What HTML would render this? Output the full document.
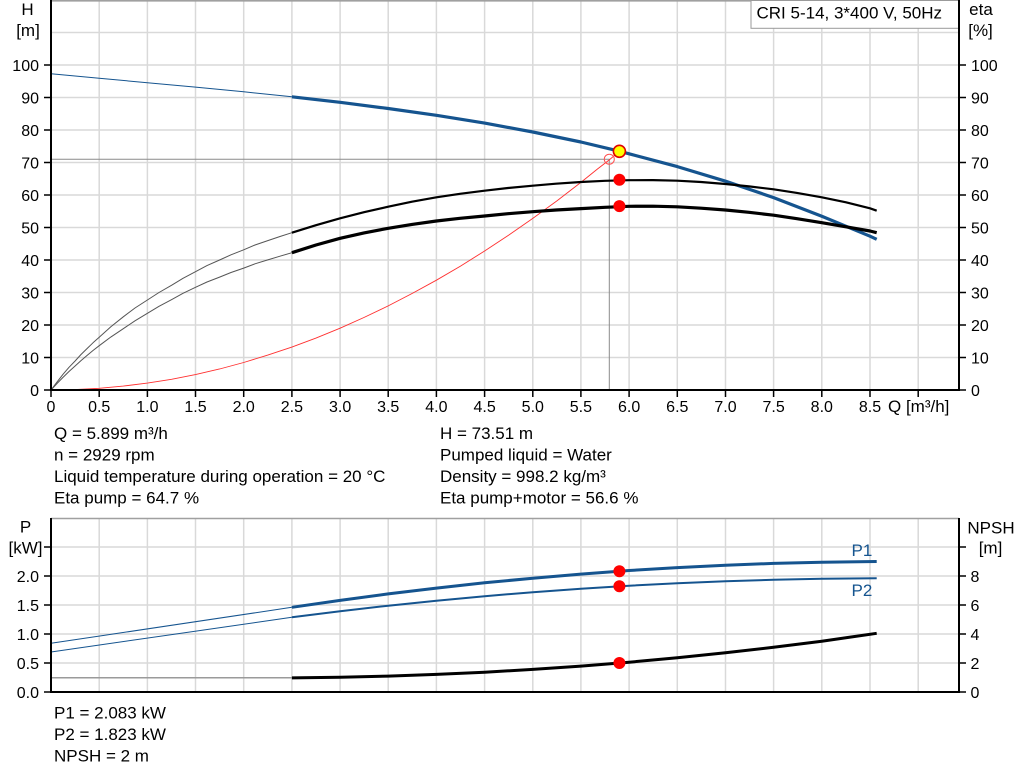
<!DOCTYPE html>
<html><head><meta charset="utf-8"><style>
html,body{margin:0;padding:0;background:#fff;}
svg{display:block;}
text{font-family:"Liberation Sans",Arial,sans-serif;font-size:17px;fill:#000;}
text.t{font-size:16px;}
</style></head><body>
<svg width="1024" height="781" viewBox="0 0 1024 781" xmlns="http://www.w3.org/2000/svg">
<!-- top chart grid -->
<g stroke="#d9d9d9" stroke-width="1.5" fill="none">
<path d="M99.2 0V390M147.4 0V390M195.5 0V390M243.7 0V390M291.9 0V390M340.1 0V390M388.2 0V390M436.4 0V390M484.6 0V390M532.8 0V390M580.9 0V390M629.1 0V390M677.3 0V390M725.5 0V390M773.6 0V390M821.8 0V390M870 0V390M918.2 0V390"/>
<path d="M51 357.5H959M51 325H959M51 292.5H959M51 260H959M51 227.5H959M51 195H959M51 162.5H959M51 130H959M51 97.5H959M51 65H959M51 32.5H959"/>
</g>
<line x1="51" y1="0.8" x2="959" y2="0.8" stroke="#a0a0a0" stroke-width="1.6"/>
<!-- legend box -->
<rect x="751" y="0.5" width="207.5" height="27.8" fill="#fff" stroke="#9a9a9a" stroke-width="1"/>
<text x="756.5" y="18.5">CRI 5-14, 3*400 V, 50Hz</text>
<!-- crosshair -->
<path d="M51 159.2H609.3V390" stroke="#8a8a8a" stroke-width="1" fill="none"/>
<!-- system curve -->
<polyline fill="none" stroke="#ff3030" stroke-width="0.9" points="51,390 75.1,389.6 99.2,388.3 123.3,386.1 147.4,383.1 171.5,379.3 195.5,374.6 219.6,369 243.7,362.5 267.8,355.1 291.9,347.1 316,338.1 340.1,328.2 364.2,317.4 388.2,305.9 412.3,293.4 436.4,280.2 460.5,266.1 484.6,251 508.7,235.1 532.8,218.4 556.9,200.9 580.9,182.4 597,169.4 609.3,159.9 619.4,151.3"/>
<circle cx="609.3" cy="159.2" r="5" fill="none" stroke="#ff5050" stroke-width="1"/>
<!-- H curve -->
<polyline fill="none" stroke="#15548f" stroke-width="1" points="51,73.8 99.2,78.3 147.4,82.7 195.5,87.1 243.7,91.8 291.9,96.8"/>
<polyline fill="none" stroke="#15548f" stroke-width="3.2" stroke-linejoin="round" points="291.9,96.8 340.1,102.3 388.2,108.5 436.4,115.3 484.6,123.1 532.8,132 580.9,142 619.4,151.2 629.1,153.8 677.3,166.6 725.5,181.2 773.6,197.6 821.8,216.3 870,236.2 876.7,239.3"/>
<!-- eta pump -->
<polyline fill="none" stroke="#555" stroke-width="1" stroke-linejoin="round" points="51,390 57,382 63,374.3 69,367.3 75.1,361 81,354.5 87,348.6 93,342.8 99.2,337.3 111,326.6 123.3,316.8 135,308 147.4,300 159,292.5 171.5,285.3 183,278.3 195.5,271.7 207,265.6 219.6,260 231,254.8 243.7,249.8 255,245 267.8,240.6 280,236.5 291.9,232.7"/>
<polyline fill="none" stroke="#000" stroke-width="2.2" stroke-linejoin="round" points="291.9,232.7 316,225.2 340.1,218.3 364,212.2 388.2,206.7 412,201.7 436.4,197.3 460,193.8 484.6,190.7 508,188 532.8,185.7 556,183.7 580.9,182 605,180.8 629.1,180.2 653,180.1 677.3,180.7 701,182 725.5,184 749,186.4 773.6,189.3 797,192.9 821.8,197.3 846,202.3 870,208.3 876.7,210.7"/>
<!-- eta pump+motor -->
<polyline fill="none" stroke="#555" stroke-width="1" stroke-linejoin="round" points="51,390 57,383.5 63,377.4 69,371.5 75.1,366 81,360.6 87,355.5 93,350.5 99.2,345.7 111,336.9 123.3,328.7 135,320.8 147.4,313.3 159,306.3 171.5,299.7 183,293.3 195.5,287.3 207,282 219.6,277.1 231,272.5 243.7,268.1 255,263.8 267.8,259.9 280,256.2 291.9,252.7"/>
<polyline fill="none" stroke="#000" stroke-width="3.2" stroke-linejoin="round" points="291.9,252.7 316,245 340.1,238.3 364,232.9 388.2,228.3 412,224.4 436.4,221 460,218.3 484.6,216 508,213.7 532.8,211.7 556,210 580.9,208.6 605,207.3 629.1,206.3 653,206.2 677.3,206.8 701,208.2 725.5,210 749,212.3 773.6,215.2 797,218.7 821.8,222.7 846,226.8 870,231 876.7,232.7"/>
<!-- operating points -->
<circle cx="619.4" cy="179.8" r="6" fill="#ff0000"/>
<circle cx="619.4" cy="206.1" r="6" fill="#ff0000"/>
<circle cx="619.4" cy="151.3" r="6" fill="#ffff00" stroke="#e00000" stroke-width="1.6"/>
<!-- top axes -->
<g stroke="#000" stroke-width="2" fill="none">
<path d="M51 0V391M959 0V391M50 390H960"/>
</g>
<g stroke="#000" stroke-width="1.5" fill="none">
<path d="M44 390H51M44 357.5H51M44 325H51M44 292.5H51M44 260H51M44 227.5H51M44 195H51M44 162.5H51M44 130H51M44 97.5H51M44 65H51"/>
<path d="M959 390H966M959 357.5H966M959 325H966M959 292.5H966M959 260H966M959 227.5H966M959 195H966M959 162.5H966M959 130H966M959 97.5H966M959 65H966"/>
<path d="M51 390V397M99.2 390V397M147.4 390V397M195.5 390V397M243.7 390V397M291.9 390V397M340.1 390V397M388.2 390V397M436.4 390V397M484.6 390V397M532.8 390V397M580.9 390V397M629.1 390V397M677.3 390V397M725.5 390V397M773.6 390V397M821.8 390V397M870 390V397M918.2 390V397"/>
</g>
<g text-anchor="end">
<text class="t" x="39" y="396">0</text><text class="t" x="39" y="363.5">10</text><text class="t" x="39" y="331">20</text><text class="t" x="39" y="298.5">30</text><text class="t" x="39" y="266">40</text><text class="t" x="39" y="233.5">50</text><text class="t" x="39" y="201">60</text><text class="t" x="39" y="168.5">70</text><text class="t" x="39" y="136">80</text><text class="t" x="39" y="103.5">90</text><text class="t" x="39" y="71">100</text>
</g>
<g>
<text class="t" x="971" y="396">0</text><text class="t" x="971" y="363.5">10</text><text class="t" x="971" y="331">20</text><text class="t" x="971" y="298.5">30</text><text class="t" x="971" y="266">40</text><text class="t" x="971" y="233.5">50</text><text class="t" x="971" y="201">60</text><text class="t" x="971" y="168.5">70</text><text class="t" x="971" y="136">80</text><text class="t" x="971" y="103.5">90</text><text class="t" x="971" y="71">100</text>
</g>
<g text-anchor="middle">
<text class="t" x="51" y="412">0</text><text class="t" x="99.2" y="412">0.5</text><text class="t" x="147.4" y="412">1.0</text><text class="t" x="195.5" y="412">1.5</text><text class="t" x="243.7" y="412">2.0</text><text class="t" x="291.9" y="412">2.5</text><text class="t" x="340.1" y="412">3.0</text><text class="t" x="388.2" y="412">3.5</text><text class="t" x="436.4" y="412">4.0</text><text class="t" x="484.6" y="412">4.5</text><text class="t" x="532.8" y="412">5.0</text><text class="t" x="580.9" y="412">5.5</text><text class="t" x="629.1" y="412">6.0</text><text class="t" x="677.3" y="412">6.5</text><text class="t" x="725.5" y="412">7.0</text><text class="t" x="773.6" y="412">7.5</text><text class="t" x="821.8" y="412">8.0</text><text class="t" x="870" y="412">8.5</text>
</g>
<text x="888" y="412">Q [m³/h]</text>
<text x="27.5" y="15" text-anchor="middle">H</text>
<text x="28" y="36" text-anchor="middle">[m]</text>
<text x="981" y="15" text-anchor="middle">eta</text>
<text x="980.5" y="36" text-anchor="middle">[%]</text>
<!-- info text -->
<text x="54" y="439">Q = 5.899 m³/h</text>
<text x="54" y="460.5">n = 2929 rpm</text>
<text x="54" y="482">Liquid temperature during operation = 20 °C</text>
<text x="54" y="503.5">Eta pump = 64.7 %</text>
<text x="440" y="439">H = 73.51 m</text>
<text x="440" y="460.5">Pumped liquid = Water</text>
<text x="440" y="482">Density = 998.2 kg/m³</text>
<text x="440" y="503.5">Eta pump+motor = 56.6 %</text>
<!-- bottom chart grid -->
<g stroke="#d9d9d9" stroke-width="1.5" fill="none">
<path d="M99.2 518V692M147.4 518V692M195.5 518V692M243.7 518V692M291.9 518V692M340.1 518V692M388.2 518V692M436.4 518V692M484.6 518V692M532.8 518V692M580.9 518V692M629.1 518V692M677.3 518V692M725.5 518V692M773.6 518V692M821.8 518V692M870 518V692M918.2 518V692"/>
<path d="M51 663H959M51 634H959M51 605H959M51 576H959M51 547H959"/>
</g>
<line x1="51" y1="518.5" x2="959" y2="518.5" stroke="#a0a0a0" stroke-width="1.6"/>
<!-- P1 -->
<polyline fill="none" stroke="#15548f" stroke-width="1" points="51,643.3 291.9,607.3"/>
<polyline fill="none" stroke="#15548f" stroke-width="3" stroke-linejoin="round" points="291.9,607.3 340.1,600.4 388.2,593.9 436.4,588.1 484.6,582.8 532.8,578.2 580.9,574.1 629.1,570.5 677.3,567.6 725.5,565.2 773.6,563.4 821.8,562.2 876.7,561.5"/>
<!-- P2 -->
<polyline fill="none" stroke="#15548f" stroke-width="1" points="51,652 291.9,617.3"/>
<polyline fill="none" stroke="#15548f" stroke-width="2" stroke-linejoin="round" points="291.9,617.3 340.1,611.2 388.2,605.7 436.4,600.7 484.6,596.2 532.8,592.2 580.9,588.7 629.1,585.7 677.3,583.2 725.5,581.3 773.6,579.8 821.8,578.8 876.7,578.3"/>
<!-- NPSH -->
<polyline fill="none" stroke="#9a9a9a" stroke-width="1.5" points="51,677.8 291.9,677.8"/>
<polyline fill="none" stroke="#000" stroke-width="3" stroke-linejoin="round" points="291.9,677.9 340.1,677.3 388.2,676.1 436.4,674.4 484.6,672.2 532.8,669.4 580.9,666.1 629.1,662.2 677.3,657.8 725.5,652.8 773.6,647.3 821.8,641.2 876.7,633.3"/>
<circle cx="619.4" cy="571.2" r="6" fill="#ff0000"/>
<circle cx="619.4" cy="586.3" r="6" fill="#ff0000"/>
<circle cx="619.4" cy="663" r="6" fill="#ff0000"/>
<text x="851.5" y="556" style="fill:#15548f">P1</text>
<text x="851.5" y="596" style="fill:#15548f">P2</text>
<!-- bottom axes -->
<g stroke="#000" stroke-width="2" fill="none">
<path d="M51 518V693M959 518V693M50 692H960"/>
</g>
<g stroke="#000" stroke-width="1.5" fill="none">
<path d="M44 692H51M44 663H51M44 634H51M44 605H51M44 576H51M44 547H51"/>
<path d="M959 692H966M959 663H966M959 634H966M959 605H966M959 576H966M959 547H966"/>
</g>
<g text-anchor="end">
<text class="t" x="39" y="698">0.0</text><text class="t" x="39" y="669">0.5</text><text class="t" x="39" y="640">1.0</text><text class="t" x="39" y="611">1.5</text><text class="t" x="39" y="582">2.0</text>
</g>
<g>
<text class="t" x="970.5" y="698">0</text><text class="t" x="970.5" y="669">2</text><text class="t" x="970.5" y="640">4</text><text class="t" x="970.5" y="611">6</text><text class="t" x="970.5" y="582">8</text>
</g>
<text x="25.5" y="532.5" text-anchor="middle">P</text>
<text x="25.5" y="553.5" text-anchor="middle">[kW]</text>
<text x="991" y="533.5" text-anchor="middle">NPSH</text>
<text x="990.5" y="553.5" text-anchor="middle">[m]</text>
<text x="54" y="718.5">P1 = 2.083 kW</text>
<text x="54" y="740">P2 = 1.823 kW</text>
<text x="54" y="761.5">NPSH = 2 m</text>
</svg>
</body></html>
